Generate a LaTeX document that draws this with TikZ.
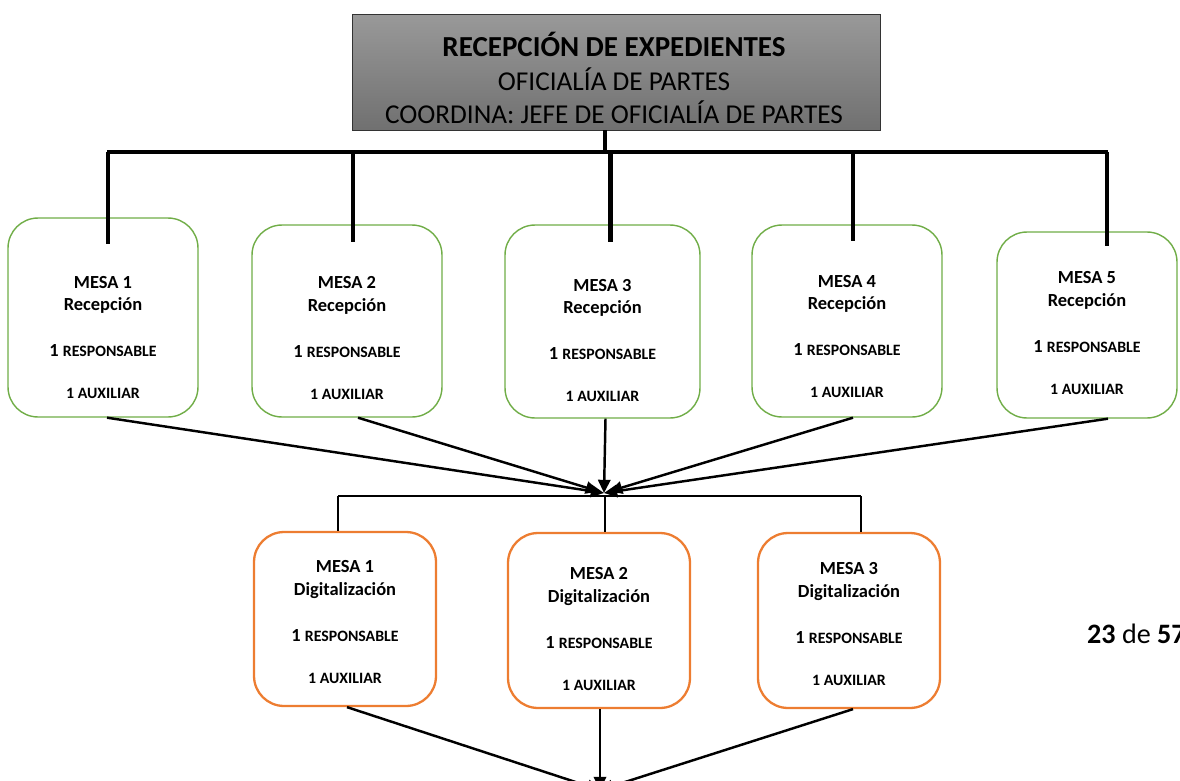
\documentclass[tikz,border=0pt]{standalone}
\usepackage{fontspec}
\setmainfont{Carlito}
\usetikzlibrary{arrows.meta,calc}
\definecolor{recgreen}{RGB}{112,173,71}
\definecolor{digorange}{RGB}{237,125,49}
% four lines of one desk
\newcommand{\mesa}[2]{MESA #1\\#2\\[13pt]1 {\fontsize{9}{13}\selectfont RESPONSABLE}\\[11pt]{\fontsize{9}{13}\selectfont 1 AUXILIAR}}

\begin{document}
\begin{tikzpicture}[x=0.02cm,y=-0.02cm,>={Triangle[length=7.5pt,width=7pt]},
	titlebox/.style={draw=black!80,thin,top color=black!40,bottom color=black!56,minimum width=10.56cm,minimum height=2.32cm},
	recbox/.style={draw=recgreen,line width=0.8pt,fill=white,rounded corners=0.6cm},
	digbox/.style={draw=digorange,line width=1.3pt,fill=white,rounded corners=0.6cm,minimum width=3.64cm},
	mesatext/.style={align=center,font=\bfseries\fontsize{10.5}{13}\selectfont},
	bus/.style={line width=2.3pt},
	link/.style={line width=1.1pt},
	flow/.style={->,line width=1.4pt}]
	\useasboundingbox (0,0) rectangle (1180,781);
	\clip (0,0) rectangle (1180,781);
	\node[titlebox] (jefe) at (616,72) {};
	\node[align=center,font=\fontsize{15.5}{19.3}\selectfont] (jefetext) at (614,78) {{\fontsize{16.5}{19.3}\selectfont\bfseries RECEPCIÓN DE EXPEDIENTES}\\OFICIALÍA DE PARTES\\COORDINA: JEFE DE OFICIALÍA DE PARTES};
	% mesas de recepcion
	\foreach \i/\x/\y/\w/\h/\t in {1/103/317.5/3.8/3.98/20, 2/347/321/3.8/3.84/17, 3/602.5/321.5/3.9/3.86/19, 4/847/321/3.8/3.84/15.5, 5/1087/325/3.6/3.72/8}{
		\node[recbox,minimum width=\w cm,minimum height=\h cm] (rec\i) at (\x,\y) {};
		\node[mesatext] (rect\i) at ($(rec\i.center)+(0,\t)$) {\mesa{\i}{Recepción}};
	}
	% mesas de digitalizacion
	\foreach \i/\x/\y/\h/\t in {1/345/619/3.48/3, 2/599/620.5/3.5/8.5, 3/849/620.5/3.5/3.5}{
		\node[digbox,minimum height=\h cm] (dig\i) at (\x,\y) {};
		\node[mesatext] (digt\i) at ($(dig\i.center)+(0,\t)$) {\mesa{\i}{Digitalización}};
	}
	\node[anchor=west,font=\fontsize{16}{19}\selectfont] (pagina) at (1081,634) {\textbf{23} de \textbf{57}};
	% bus superior
	\coordinate (bus) at (0,152);
	\draw[bus] ($(jefe.south)+(-11,0)$) -- ($(jefe.south |- bus)+(-11,0)$);
	\draw[bus] ($(rec1.north |- bus)+(4,0)$) -- ($(rec5.north |- bus)+(21,0)$);
	\foreach \i/\dx/\dy in {1/5/27, 2/6/18, 3/8/18, 4/6/17, 5/20/15}
		\draw[bus] ($(rec\i.north |- bus)+(\dx,0)$) -- ($(rec\i.north)+(\dx,\dy)$);
	% flechas hacia digitalizacion
	\coordinate (merge) at (604,493);
	\foreach \i/\dx/\s in {1/4/0, 2/11/3, 3/3/0, 4/6/3, 5/21/0}
		\draw[flow,shorten >=\s pt] ($(rec\i.south)+(\dx,0)$) -- (merge);
	\coordinate (split) at (0,496);
	\draw[link] ($(dig1.north |- split)+(-7,0)$) -- ($(dig3.north |- split)+(12,0)$);
	\foreach \i/\dx in {1/-7, 2/6, 3/12}
		\draw[link] ($(dig\i.north |- split)+(\dx,0)$) -- ($(dig\i.north)+(\dx,0)$);
	% flechas finales
	\coordinate (fin) at (600,790);
	\foreach \i/\dx in {1/2, 2/1, 3/4}
		\draw[flow] ($(dig\i.south)+(\dx,0)$) -- (fin);
\end{tikzpicture}
\end{document}
